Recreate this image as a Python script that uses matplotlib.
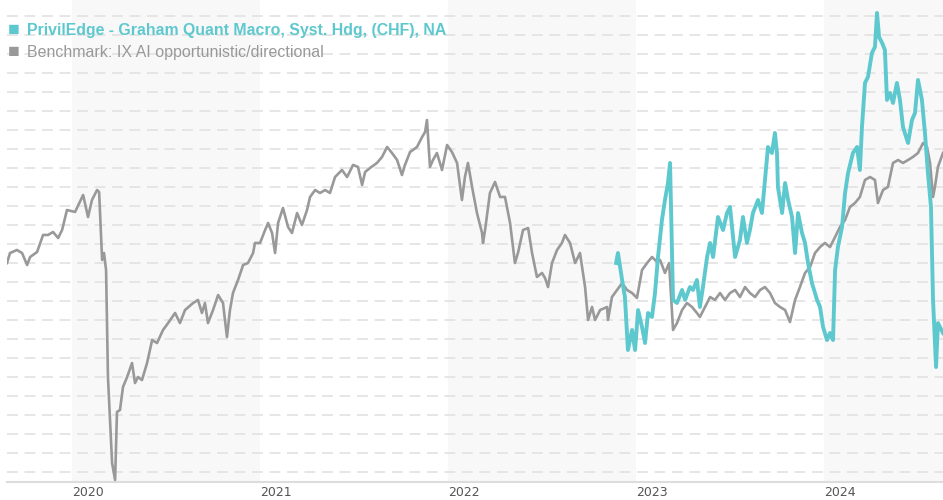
import matplotlib
matplotlib.use("Agg")
import matplotlib.pyplot as plt

# benchmark: decimal year, cumulative performance (%)
bench_t = [2019.654, 2019.670, 2019.707, 2019.734, 2019.761, 2019.777, 2019.814, 2019.846, 2019.872, 2019.899,
           2019.926, 2019.947, 2019.973, 2020.016, 2020.059, 2020.085, 2020.106, 2020.133, 2020.144, 2020.160,
           2020.170, 2020.181, 2020.191, 2020.213, 2020.229, 2020.239, 2020.255, 2020.271, 2020.293, 2020.319,
           2020.335, 2020.351, 2020.372, 2020.399, 2020.426, 2020.452, 2020.484, 2020.511, 2020.548, 2020.574,
           2020.601, 2020.644, 2020.670, 2020.691, 2020.707, 2020.723, 2020.750, 2020.777, 2020.803, 2020.824,
           2020.840, 2020.856, 2020.883, 2020.910, 2020.936, 2020.963, 2020.973, 2021.000, 2021.027, 2021.043,
           2021.064, 2021.080, 2021.096, 2021.122, 2021.149, 2021.170, 2021.197, 2021.223, 2021.250, 2021.266,
           2021.293, 2021.319, 2021.346, 2021.372, 2021.399, 2021.436, 2021.463, 2021.495, 2021.521, 2021.543,
           2021.559, 2021.585, 2021.622, 2021.649, 2021.676, 2021.702, 2021.729, 2021.755, 2021.771, 2021.798,
           2021.835, 2021.862, 2021.878, 2021.888, 2021.904, 2021.920, 2021.941, 2021.968, 2021.995, 2022.021,
           2022.048, 2022.074, 2022.090, 2022.106, 2022.128, 2022.154, 2022.181, 2022.186, 2022.197, 2022.223,
           2022.250, 2022.277, 2022.303, 2022.330, 2022.356, 2022.372, 2022.399, 2022.426, 2022.447, 2022.473,
           2022.500, 2022.516, 2022.532, 2022.553, 2022.580, 2022.606, 2022.622, 2022.649, 2022.676, 2022.702,
           2022.729, 2022.745, 2022.766, 2022.782, 2022.809, 2022.846, 2022.851, 2022.872, 2022.899, 2022.926,
           2022.952, 2022.979, 2023.005, 2023.032, 2023.059, 2023.085, 2023.112, 2023.128, 2023.154, 2023.176,
           2023.197, 2023.218, 2023.245, 2023.271, 2023.298, 2023.324, 2023.340, 2023.367, 2023.394, 2023.420,
           2023.447, 2023.473, 2023.500, 2023.527, 2023.553, 2023.580, 2023.606, 2023.633, 2023.660, 2023.686,
           2023.713, 2023.739, 2023.766, 2023.793, 2023.819, 2023.846, 2023.872, 2023.899, 2023.926, 2023.952,
           2023.979, 2024.005, 2024.032, 2024.059, 2024.085, 2024.112, 2024.138, 2024.165, 2024.191, 2024.218,
           2024.245, 2024.271, 2024.287, 2024.314, 2024.340, 2024.367, 2024.394, 2024.420, 2024.447, 2024.473,
           2024.500, 2024.527, 2024.548, 2024.564, 2024.580, 2024.590, 2024.606, 2024.633]
bench_v = [0.00, 1.05, 1.37, 1.05, -0.21, 0.63, 1.16, 2.95, 2.95, 3.26,
           2.63, 3.47, 5.58, 5.37, 7.16, 4.84, 6.63, 7.68, 7.47, 0.32,
           1.05, -0.74, -12.00, -21.05, -22.84, -15.68, -15.47, -13.05, -12.00, -10.53,
           -12.63, -12.00, -12.32, -10.53, -8.11, -8.42, -7.05, -6.32, -5.26, -6.32,
           -4.95, -4.21, -3.89, -5.26, -4.21, -6.32, -4.95, -3.37, -4.21, -7.79,
           -4.95, -3.16, -1.79, -0.21, 0.00, 1.05, 2.11, 2.11, 3.47, 4.21,
           3.16, 1.05, 4.21, 5.79, 3.79, 3.16, 5.26, 4.00, 5.58, 6.95,
           7.68, 7.37, 7.68, 7.37, 9.05, 9.79, 9.05, 10.32, 10.11, 8.21,
           9.58, 10.00, 10.53, 11.16, 12.21, 11.58, 10.84, 9.26, 10.32, 11.68,
           12.21, 13.26, 13.79, 15.05, 10.11, 10.84, 11.58, 9.79, 12.42, 11.68,
           10.53, 6.63, 9.05, 10.53, 8.00, 5.26, 3.16, 2.11, 3.47, 7.37,
           8.53, 6.95, 6.95, 4.21, 0.00, 1.05, 3.47, 3.68, 1.05, -1.47,
           -1.05, -1.58, -2.53, 0.00, 1.37, 2.11, 2.95, 2.11, 0.00, 1.05,
           -2.53, -6.00, -4.63, -6.00, -4.95, -4.63, -6.00, -3.58, -2.84, -2.11,
           -2.84, -3.16, -3.68, -0.74, 0.00, 0.63, 0.11, 0.32, -1.05, 0.00,
           -7.05, -6.32, -4.95, -4.21, -4.63, -5.26, -5.68, -4.63, -3.58, -3.89,
           -3.16, -3.89, -3.16, -2.84, -3.58, -2.53, -3.16, -3.58, -2.84, -2.53,
           -3.16, -4.21, -4.63, -4.95, -6.21, -3.89, -2.53, -1.05, -0.42, 1.05,
           1.68, 2.11, 1.68, 2.74, 3.79, 4.53, 5.89, 6.32, 6.95, 8.74,
           9.05, 8.74, 6.32, 7.68, 8.00, 10.53, 10.84, 10.53, 10.84, 11.16,
           11.58, 12.63, 12.21, 10.53, 6.95, 8.00, 10.11, 11.58]

# fund: decimal year, cumulative performance (%)
fund_t = [2022.894, 2022.904, 2022.926, 2022.941, 2022.957, 2022.979, 2022.995, 2023.011, 2023.032, 2023.048,
          2023.064, 2023.085, 2023.101, 2023.117, 2023.138, 2023.154, 2023.170, 2023.181, 2023.197, 2023.218,
          2023.245, 2023.261, 2023.287, 2023.303, 2023.324, 2023.340, 2023.356, 2023.378, 2023.394, 2023.410,
          2023.436, 2023.463, 2023.484, 2023.500, 2023.527, 2023.553, 2023.569, 2023.590, 2023.606, 2023.622,
          2023.649, 2023.670, 2023.686, 2023.702, 2023.723, 2023.739, 2023.750, 2023.755, 2023.777, 2023.793,
          2023.809, 2023.830, 2023.846, 2023.862, 2023.883, 2023.899, 2023.915, 2023.936, 2023.963, 2023.979,
          2023.995, 2024.016, 2024.032, 2024.048, 2024.059, 2024.074, 2024.096, 2024.112, 2024.128, 2024.154,
          2024.176, 2024.191, 2024.202, 2024.218, 2024.234, 2024.255, 2024.271, 2024.282, 2024.293, 2024.309,
          2024.324, 2024.335, 2024.351, 2024.367, 2024.388, 2024.404, 2024.420, 2024.447, 2024.468, 2024.484,
          2024.500, 2024.521, 2024.537, 2024.553, 2024.569, 2024.580, 2024.596, 2024.606, 2024.633]
fund_v = [0.00, 1.05, -1.79, -3.58, -9.16, -7.05, -9.16, -4.95, -6.74, -8.42,
          -5.26, -5.68, -3.16, 0.63, 4.53, 6.63, 8.42, 10.53, -3.89, -4.21,
          -2.84, -3.89, -2.53, -2.84, -1.79, -4.63, -2.53, 0.63, 2.11, 0.63,
          4.84, 3.47, 5.26, 5.89, 0.63, 2.42, 4.84, 2.11, 3.47, 5.26,
          6.63, 5.26, 8.74, 12.21, 11.58, 13.68, 11.58, 8.00, 5.26, 8.42,
          6.63, 4.84, 1.05, 5.26, 3.16, 2.11, 0.00, -2.11, -3.89, -4.63,
          -6.74, -8.11, -7.37, -8.11, -0.74, 1.68, 3.79, 7.37, 9.47, 11.58,
          12.21, 9.79, 14.32, 18.95, 19.58, 22.11, 22.74, 26.32, 23.79, 23.16,
          22.42, 17.16, 17.89, 16.84, 18.95, 17.16, 14.32, 12.63, 15.05, 15.79,
          19.26, 17.16, 13.68, 9.47, 5.89, -3.89, -10.95, -6.32, -7.37]

years = [2020, 2021, 2022, 2023, 2024]
shaded_years = [2020, 2022, 2024]
fund_label = "PrivilEdge - Graham Quant Macro, Syst. Hdg, (CHF), NA"
bench_label = "Benchmark: IX AI opportunistic/directional"

teal = "#5ec8cf"
grey = "#999999"

fig = plt.figure(figsize=(9.43, 5.0), dpi=100)
ax = fig.add_axes([7 / 943, 18 / 500, 936 / 943, 482 / 500])

x0, x1 = 2019.654, 2024.633
y0, y1 = -23.05, 27.68
ax.set_xlim(x0, x1)
ax.set_ylim(y0, y1)

for yr in shaded_years:
    ax.axvspan(yr, min(yr + 1, x1), color="#f8f8f8", zorder=0, lw=0)

for g in range(-22, 27, 2):
    ax.axhline(g, color="#e2e2e2", lw=1.2, ls=(0, (6.5, 4)), zorder=1)

ax.plot(bench_t, bench_v, color=grey, lw=1.9, zorder=3, solid_joinstyle="round")
ax.plot(fund_t, fund_v, color=teal, lw=2.8, zorder=4, solid_joinstyle="round")

for s in ["left", "right", "top"]:
    ax.spines[s].set_visible(False)
ax.spines["bottom"].set_color("#dddddd")
ax.spines["bottom"].set_linewidth(1.5)

ax.set_yticks([])
ax.set_xticks(years)
ax.set_xticklabels([str(y) for y in years], ha="left", fontsize=9, color="#555555",
                   family=["DejaVu Sans"])
ax.tick_params(axis="x", length=0, pad=3)

fams = ["Liberation Sans", "DejaVu Sans"]
fig.text(8 / 943, 1 - 31 / 500, "\u25a0", color=teal, fontsize=14, va="center", family=fams)
fig.text(27 / 943, 1 - 31 / 500, fund_label, color=teal, fontsize=11.4, fontweight="bold",
         va="center", family=fams)
fig.text(8 / 943, 1 - 53 / 500, "\u25a0", color=grey, fontsize=14, va="center", family=fams)
fig.text(27 / 943, 1 - 53 / 500, bench_label, color=grey, fontsize=11.5, va="center", family=fams)

fig.savefig("out.png", dpi=100)
